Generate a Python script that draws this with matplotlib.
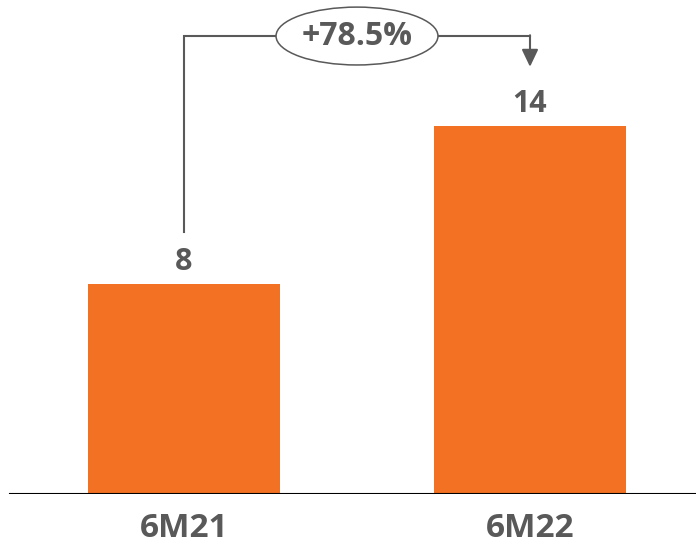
import matplotlib
matplotlib.use("Agg")
import matplotlib.pyplot as plt
from matplotlib.patches import Ellipse

periods = ["6M21", "6M22"]
values = [8, 14]
growth_label = "+78.5%"

bar_color = "#F27122"
text_color = "#595959"

plt.rcParams["font.family"] = ["Open Sans", "DejaVu Sans"]

fig = plt.figure(figsize=(6.96, 5.44), dpi=100)
ax = fig.add_axes([0, 50 / 544, 1, 494 / 544])

x = list(range(len(periods)))
ax.bar(x, values, width=0.555, color=bar_color, zorder=2)

ax.set_xlim(-184 / 346, 512 / 346)
ax.set_ylim(0, 18.78)

for xi, v in zip(x, values):
    ax.annotate(f"{v}", (xi, v), xytext=(0, 5), textcoords="offset points",
                ha="center", va="bottom", fontsize=22, fontweight="bold",
                color=text_color)

# baseline
ax.axhline(0, xmin=10 / 696, xmax=1, color="black", lw=1.5, zorder=3)

for s in ax.spines.values():
    s.set_visible(False)
ax.set_yticks([])
ax.set_xticks(x)
ax.set_xticklabels(periods, fontsize=24, fontweight="bold", color=text_color)
ax.tick_params(axis="x", length=0, pad=13)

# growth bracket
y_top = 17.41
ax.plot([0, 0, x[1]], [9.96, y_top, y_top], color=text_color, lw=1.5,
        zorder=3, solid_joinstyle="miter")
ax.annotate("", xy=(x[1], 16.24), xytext=(x[1], y_top + 0.03),
            arrowprops=dict(arrowstyle="-|>,head_length=1.05,head_width=0.5",
                            color=text_color, lw=1.5, shrinkA=0, shrinkB=0))
ell = Ellipse((0.5, y_top), width=0.468, height=2.2, facecolor="white",
              edgecolor=text_color, lw=1.1, zorder=4)
ax.add_patch(ell)
ax.text(0.5, y_top, growth_label, ha="center", va="center", fontsize=23,
        fontweight="bold", color=text_color, zorder=5)

fig.savefig("out.png", dpi=100)
